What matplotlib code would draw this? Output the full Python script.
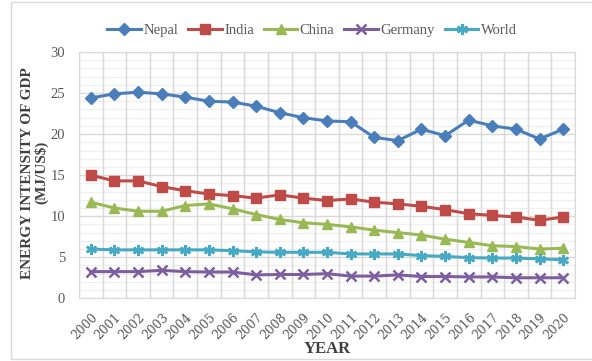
import matplotlib
matplotlib.use("Agg")
import matplotlib.pyplot as plt
from matplotlib.patches import Rectangle
from matplotlib.ticker import MultipleLocator

# Energy intensity of GDP (MJ/US$), 2000-2020
years = [str(y) for y in range(2000, 2021)]
nepal = [24.4, 24.9, 25.1, 24.9, 24.5, 24.0, 23.9, 23.4, 22.6, 22.0, 21.6,
         21.5, 19.6, 19.2, 20.6, 19.8, 21.7, 21.0, 20.6, 19.4, 20.6]
india = [15.0, 14.3, 14.3, 13.6, 13.1, 12.7, 12.5, 12.2, 12.6, 12.2, 11.9,
         12.1, 11.7, 11.5, 11.2, 10.8, 10.3, 10.1, 9.9, 9.5, 9.9]
china = [11.7, 11.0, 10.6, 10.6, 11.3, 11.5, 10.9, 10.2, 9.6, 9.2, 9.0,
         8.7, 8.3, 8.0, 7.7, 7.2, 6.8, 6.4, 6.3, 6.0, 6.1]
germany = [3.25, 3.25, 3.25, 3.4, 3.25, 3.2, 3.2, 2.85, 2.9, 2.9, 3.0,
           2.7, 2.7, 2.85, 2.65, 2.65, 2.6, 2.6, 2.5, 2.5, 2.5]
world = [6.0, 5.9, 5.9, 5.9, 5.9, 5.9, 5.8, 5.65, 5.6, 5.6, 5.6,
         5.4, 5.4, 5.4, 5.2, 5.1, 4.95, 4.9, 4.9, 4.8, 4.7]

plt.rcParams['font.family'] = ['Liberation Serif', 'DejaVu Serif']

fig = plt.figure(figsize=(5.92, 3.61), dpi=100)
ax = fig.add_axes([0.1334, 0.1737, 0.8379, 0.6823])

# chart frame
fig.patches.append(Rectangle((11 / 592, 2 / 361), 600 / 592, 357 / 361,
                             transform=fig.transFigure, fill=False,
                             edgecolor='#d9d9d9', linewidth=1.0))

x = list(range(len(years)))
series = [
    ('Nepal', nepal, '#4a7ebb', 'D', 6),
    ('India', india, '#be4b48', 's', 7),
    ('China', china, '#98b954', '^', 7),
    ('Germany', germany, '#7d5fa0', 'x', 7),
    ('World', world, '#46aac5', (6, 2, 0), 8),
]
for name, vals, color, marker, ms in series:
    ax.plot(x, vals, color=color, linewidth=2.2, marker=marker,
            markersize=ms, markeredgewidth=1.8 if marker in ('x', (6, 2, 0)) else 1.0,
            label=name, zorder=3)

ax.set_xlim(-0.5, 20.5)
ax.set_ylim(0, 30)
ax.set_xticks(x)
ax.set_xticklabels(years, rotation=45, ha='right', va='top',
                   rotation_mode='anchor', fontsize=8.8, color='#595959',
                   family=['DejaVu Serif'])
ax.xaxis.set_minor_locator(MultipleLocator(1, offset=0.5))
ax.yaxis.set_major_locator(MultipleLocator(5))
ax.yaxis.set_minor_locator(MultipleLocator(1))
ax.tick_params(axis='y', labelsize=10.5, labelcolor='#595959', pad=10)
ax.tick_params(which='both', length=0)
ax.tick_params(axis='x', pad=9)

ax.grid(which='minor', color='#f0f0f0', linewidth=0.9, zorder=0)
ax.grid(which='major', axis='y', color='#d9d9d9', linewidth=1.0, zorder=1)
# major vertical lines on category boundaries
for b in range(len(years) + 1):
    ax.axvline(b - 0.5, color='#d9d9d9', linewidth=1.0, zorder=1)
for s in ax.spines.values():
    s.set_color('#d9d9d9')
ax.set_axisbelow(True)

ax.set_xlabel('YEAR', fontsize=12, fontweight='bold', color='#404040')
ax.xaxis.set_label_coords(0.5, -0.175)
ax.set_ylabel('ENERGY INTENSITY OF GDP\n(MJ/US$)', fontsize=11,
              fontweight='bold', color='#404040', linespacing=1.0)
ax.yaxis.set_label_coords(-0.062, 0.51)

fig.legend(loc='center', bbox_to_anchor=(0.527, 0.915), ncol=5, frameon=False,
           fontsize=10.5, handlelength=2.3, handletextpad=0.15, columnspacing=0.7,
           labelcolor='#595959')

fig.savefig('out.png', dpi=100)
